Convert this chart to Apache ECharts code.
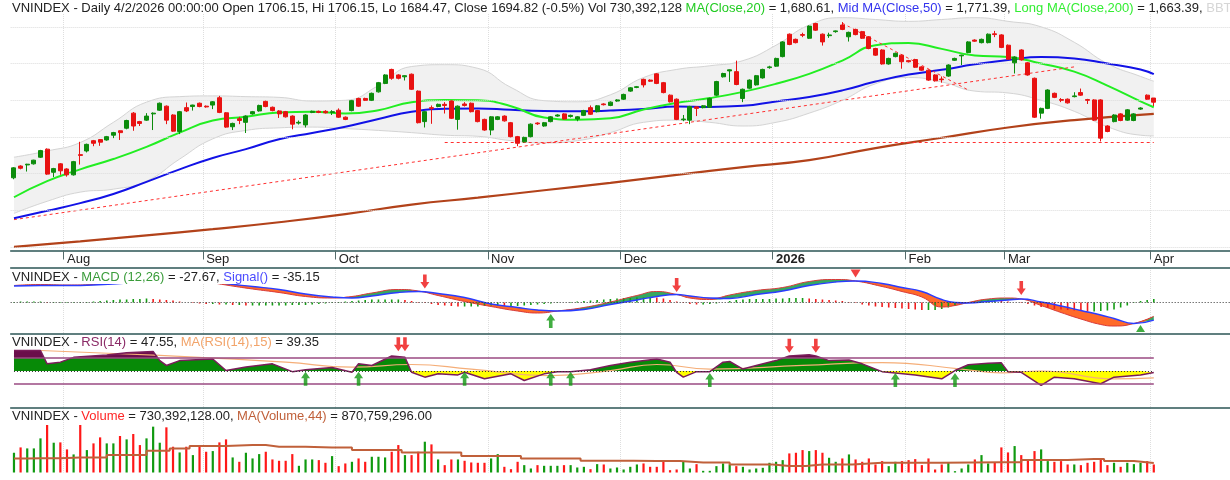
<!DOCTYPE html>
<html>
<head>
<meta charset="utf-8">
<script src="https://cdn.jsdelivr.net/npm/echarts@6/dist/echarts.min.js"></script>
<style>
  html, body { margin: 0; padding: 0; background: #fff; }
  #chart { width: 1230px; height: 480px; }
</style>
</head>
<body>
<div id="chart"></div>
<script>
// ---- data ----
// slot index per trading day, blank slots on the right
const SLOTS = 184;
const categories = Array.from({ length: SLOTS }, (_, i) => String(i));
const monthStart = [8, 29, 49, 72, 92, 115, 135, 150, 172];
const monthName = ['Aug', 'Sep', 'Oct', 'Nov', 'Dec', '2026', 'Feb', 'Mar', 'Apr'];
const priceGrid = [1300, 1400, 1500, 1600, 1700, 1800, 1900];

// [open, close, low, high]
const candles = [
  [1489,1516,1485,1518],[1521,1515,1512,1523],[1524,1526,1506,1527],[1527,1537,1525,1538],
  [1545,1563,1543,1565],[1567,1499,1497,1569],[1504,1514,1491,1516],[1527,1508,1497,1529],
  [1513,1497,1492,1515],[1497,1533,1495,1535],[1552,1550,1525,1587],[1562,1580,1558,1582],
  [1590,1583,1575,1592],[1593,1586,1576,1594],[1592,1601,1590,1603],[1605,1612,1597,1614],
  [1617,1612,1592,1618],[1624,1645,1621,1647],[1665,1630,1617,1668],[1642,1637,1630,1644],
  [1646,1657,1644,1665],[1663,1665,1619,1667],[1673,1692,1671,1694],[1684,1646,1635,1686],
  [1660,1616,1614,1662],[1615,1669,1608,1671],[1680,1671,1668,1694],[1683,1687,1672,1688],
  [1692,1683,1681,1694],[1684,1682,1680,1686],[1687,1696,1676,1698],[1707,1667,1665,1712],
  [1666,1627,1625,1668],[1628,1637,1619,1639],[1650,1645,1635,1655],[1640,1657,1611,1659],
  [1663,1669,1661,1671],[1671,1686,1669,1688],[1697,1683,1681,1699],[1681,1672,1670,1683],
  [1671,1663,1652,1673],[1669,1655,1653,1671],[1657,1635,1621,1659],[1638,1640,1634,1645],
  [1633,1660,1626,1662],[1667,1670,1665,1672],[1670,1667,1665,1672],[1670,1666,1664,1673],
  [1667,1669,1660,1673],[1673,1654,1652,1678],[1654,1648,1646,1656],[1672,1699,1670,1701],
  [1705,1684,1682,1707],[1705,1700,1698,1707],[1700,1719,1698,1721],[1723,1748,1721,1750],
  [1746,1769,1744,1771],[1784,1760,1756,1786],
  [1769,1760,1757,1771],[1764,1767,1754,1768],[1771,1730,1728,1773],[1725,1639,1637,1727],
  [1642,1669,1626,1671],[1680,1678,1636,1686],[1683,1689,1681,1691],[1689,1686,1664,1695],
  [1698,1651,1649,1700],[1648,1684,1620,1686],[1690,1686,1683,1695],[1692,1669,1667,1694],
  [1672,1642,1640,1674],[1648,1619,1617,1650],[1619,1655,1605,1657],[1648,1655,1646,1657],
  [1657,1644,1642,1659],[1639,1601,1599,1641],[1601,1583,1575,1603],[1587,1599,1585,1601],
  [1601,1635,1599,1637],[1638,1636,1633,1640],[1630,1639,1628,1641],[1642,1655,1640,1657],
  [1657,1660,1655,1662],[1663,1649,1647,1665],[1656,1659,1653,1661],[1649,1655,1643,1657],
  [1659,1672,1657,1674],[1680,1662,1660,1686],[1669,1685,1667,1687],[1690,1688,1686,1692],
  [1686,1695,1684,1697],[1698,1701,1696,1703],[1703,1716,1701,1718],[1725,1734,1723,1736],
  [1735,1737,1733,1739],[1757,1742,1735,1759],[1755,1752,1750,1757],[1772,1746,1744,1774],
  [1748,1721,1719,1750],[1714,1696,1694,1716],[1703,1648,1646,1705],[1647,1649,1643,1660],
  [1646,1683,1635,1685],[1682,1678,1657,1684],[1680,1685,1678,1687],[1681,1705,1679,1707],
  [1714,1751,1712,1753],[1764,1773,1762,1775],[1780,1783,1750,1784],[1778,1743,1741,1808],
  [1705,1730,1695,1732],[1733,1755,1731,1757],[1742,1767,1740,1769],[1761,1784,1759,1786],
  [1789,1791,1786,1794],[1793,1814,1791,1816],[1819,1859,1817,1861],
  [1880,1852,1850,1882],[1866,1857,1855,1868],[1879,1877,1872,1884],[1869,1902,1867,1904],
  [1909,1891,1889,1911],[1880,1859,1849,1882],[1876,1878,1870,1884],[1887,1889,1884,1890],
  [1905,1893,1891,1913],[1873,1885,1860,1887],[1893,1879,1877,1895],[1887,1869,1867,1889],
  [1873,1841,1839,1875],[1841,1823,1821,1843],[1837,1799,1797,1839],[1799,1814,1797,1816],
  [1819,1828,1817,1830],[1823,1805,1786,1825],[1808,1805,1803,1810],[1811,1790,1788,1813],
  [1791,1782,1780,1793],[1782,1755,1753,1784],[1769,1753,1751,1771],[1758,1756,1748,1765],
  [1766,1796,1764,1798],[1809,1814,1807,1816],[1821,1823,1796,1824],[1830,1859,1828,1861],
  [1864,1861,1859,1866],[1857,1866,1855,1868],[1857,1880,1855,1882],[1881,1879,1872,1889],
  [1878,1844,1842,1880],[1850,1812,1810,1852],[1802,1818,1773,1820],[1837,1810,1808,1839],
  [1802,1769,1767,1804],[1760,1654,1652,1762],[1665,1678,1650,1680],[1678,1728,1676,1730],
  [1719,1708,1706,1721],[1702,1700,1695,1706],[1703,1693,1691,1705],[1710,1712,1708,1722],
  [1721,1714,1712,1732],[1702,1700,1690,1704],[1701,1646,1644,1703],[1701,1597,1588,1703],
  [1630,1615,1613,1632],[1642,1660,1640,1662],[1663,1645,1643,1665],[1646,1674,1644,1676],
  [1645,1663,1643,1665],[1676,1679,1674,1681],[1714,1703,1701,1716],[1706.15,1694.82,1684.47,1706.15]
];

// moving averages, [slot, value]
const ma20 = [[0,1436],[5,1480],[10,1512],[15,1540],[20,1573],[25,1612],[30,1645],[35,1655],[40,1667],
  [45,1669],[50,1664],[55,1673],[60,1695],[65,1701],[70,1700],[75,1684],[80,1653],[85,1647],[90,1651],
  [95,1675],[100,1693],[105,1706],[110,1723],[115,1745],[120,1772],[125,1808],[130,1850],[135,1856],
  [140,1840],[145,1822],[150,1818],[155,1800],[160,1778],[165,1740],[170,1697],[172,1681]];
const ma50 = [[0,1379],[5,1399],[10,1420],[15,1445],[20,1478],[25,1512],[30,1543],[35,1567],[40,1594],
  [45,1611],[50,1628],[55,1649],[60,1669],[65,1677],[70,1678],[75,1674],[80,1671],[85,1670],[90,1672],
  [95,1676],[100,1683],[105,1682],[110,1685],[115,1697],[120,1709],[125,1727],[130,1751],[135,1770],
  [140,1783],[145,1798],[150,1810],[155,1818],[160,1814],[165,1800],[170,1784],[172,1771]];
const ma200 = [[0,1301],[10,1316],[20,1332],[30,1349],[40,1368],[50,1390],[60,1416],[70,1435],[80,1455],
  [90,1475],[100,1497],[110,1518],[120,1537],[130,1570],[140,1598],[150,1626],[160,1646],[172,1663]];

// Bollinger band
const bbIdx   = [0,5,10,15,20,25,30,35,40,45,50,55,60,65,70,75,80,85,90,95,100,105,110,115,120,125,130,135,140,145,150,155,160,165,170,172];
const bbUpper = [1545,1562,1585,1640,1695,1710,1712,1710,1708,1698,1700,1740,1792,1797,1787,1735,1699,1696,1715,1762,1784,1794,1808,1850,1905,1925,1920,1915,1920,1925,1915,1900,1858,1800,1765,1752];
const bbLower = [1392,1425,1450,1458,1480,1540,1595,1618,1625,1627,1623,1618,1612,1605,1602,1590,1584,1590,1612,1640,1646,1640,1630,1640,1665,1700,1745,1762,1750,1725,1720,1700,1670,1628,1605,1603];

// trend lines drawn on the price panel: [slot, price] to [slot, price]
const trendLines = [
  [[0, 1375], [160, 1791]],
  [[65, 1586], [172, 1586]],
  [[125, 1910], [144, 1728]]
];

// MACD
const macdIdx    = [0,4,8,12,16,20,24,28,32,36,40,44,48,51,54,58,61,64,68,72,76,79,82,86,90,94,97,100,102,105,108,112,116,120,124,127,131,134,137,140,142,144,147,150,152,155,158,161,164,166,169,172];
const macdVal    = [34,36,35,36,44,50,52,44,35,27,20,12,9,12,19,26,23,14,2,-8,-17,-21,-17,-10,1,14,22,16,9,6,15,24,30,42,46,43,32,22,11,-9,-6,0,7,9,7,-6,-20,-33,-44,-47,-42,-27.67];
const signalVal  = [33,34,34,35,38,42,47,46,38,32,26,17,11,9,13,20,22,18,10,-3,-10,-15,-17,-14,-4,5,12,16,13,9,8,16,23,34,41,43,38,30,22,6,0,-1,2,5,7,1,-7,-16,-25,-32,-42,-35.15];
const macdHist = [
  1,2,2,2,2,1,1,1,1,1, 1,1,2,3,4,5,6,6,7,7, 8,7,6,5,4,2,0,-1,-2,-3,
  -3,-4,-4,-5,-5,-6,-6,-6,-6,-6, -6,-6,-5,-5,-5,-4,-3,-2,-1,1, 2,3,4,5,6,6,6,6,6,5,
  3,1,-1,-3,-5,-6,-7,-8,-8,-8, -8,-7,-6,-6,-7,-7,-7,-6,-5,-4, -3,-2,-1,0,1,2,3,4,5,6,
  7,8,9,9,10,10,11,10,8,5, 2,-1,-3,-4,-4,-3,-2,0,3,5, 6,7,7,7,7,8,8,9,9,9,
  8,7,6,5,4,3,1,-1,-4,-6, -8,-9,-10,-11,-12,-13,-14,-15,-15,-15, -13,-10,-6,-2,1,3,4,4,4,3,
  2,0,-1,-3,-6,-9,-11,-13,-14,-15, -16,-17,-18,-18,-17,-16,-14,-10,-6,-1, 3,5,7
];
const macdSell = [[62, 42], [100, 35], [152, 29]];
const macdBuy  = [[81, -37]];
const macdTop  = [[127, 58]];
const macdLow  = [[170, -52]];

// RSI
const rsi = [[0,81.5],[4,81.5],[5,61],[7,63.6],[9,71],[14,74.6],[17,78],[21,80],[22,66],[23,58.5],[25,66],
  [30,68.5],[32,50.7],[35,56],[39,61],[42,49],[44,52],[48,55.5],[51,48],[52,61],[54,58.5],[57,73],[59,71],
  [60,48],[62,40.5],[64,45.6],[67,44],[68,48],[71,38],[75,45.6],[77,35.4],[80,45.6],[82,49],[84,49],[87,52],
  [90,58.5],[93,63.6],[97,68.5],[99,63.6],[100,48],[101,40.5],[103,49],[105,49],[107,63.6],[108,64.6],
  [110,53],[112,58.5],[115,66],[117,73],[120,75],[121,73],[123,66],[126,67],[128,61],[131,49],[133,47],
  [136,44],[140,38],[142,50.7],[144,59.6],[147,62],[149,62.5],[150,49],[152,48],[155,27.7],[157,40.5],
  [160,38],[164,30.3],[166,40.5],[170,44],[172,47.55]];
const rsiMa = [[4,81.5],[16,76.5],[28,71],[41,63.6],[51,56],[60,60],[69,53],[81,43],[90,50.7],[97,60],
  [105,53],[119,58.5],[131,63],[143,53],[149,47],[155,50],[166,38],[172,39.35]];
const rsiSell = [[58, 91], [59, 91], [117, 89], [121, 89]];
const rsiBuy  = [[44, 38], [52, 38], [68, 38], [81, 38], [84, 38], [105, 36], [133, 36], [142, 36]];

// volume, millions of shares
const volume = [
  1794,2280,2189,2189,3101,4317,2706,2736,2098,1642, 4317,2037,2645,3192,2645,2645,3314,3010,3496,2493,
  3101,4165,2706,4104,2341,1824,2341,1581,2402,1885, 1946,2736,3010,1368,973,1794,1277,1672,1885,1186,
  1064,1064,1672,608,1186,1186,1125,882,1490,578, 821,973,1277,973,1429,1429,1368,1885,2493,1581,
  1581,1885,2797,2554,1186,669,1186,1186,1064,912, 882,882,1277,1672,517,304,973,669,365,669,
  608,608,608,669,669,456,517,304,760,730,
  365,456,274,517,730,821,517,517,1034,213, 274,973,365,760,152,152,578,821,730,578,
  517,274,365,426,882,973,1125,1733,1794,2037, 1946,2037,1794,1338,973,1277,1642,1186,973,1277,
  730,1034,578,973,1034,1125,1216,669,1277,274, 730,882,122,365,730,1186,1581,821,912,2280,
  1824,2402,1581,1186,1946,2098,1034,973,1034,730, 730,669,882,973,1277,669,882,517,882,760,
  882,1034,730
];
const volMa = [[0,1277],[4,1300],[10,1368],[18,1580],[22,1976],[25,2189],[28,2400],[36,2493],[40,2350],
  [48,2280],[54,2037],[63,1824],[72,1490],[81,1277],[90,1064],[97,1034],[104,912],[112,730],[117,600],
  [122,730],[131,882],[149,942],[155,1125],[163,1216],[166,1034],[172,871]];

// ---- chart ----
const FONT = '"Liberation Sans", Arial, sans-serif';
const FS = 13;
const UP = '#0c8c0c', DOWN = '#e81212';
const AXIS_DARK = '#2d5656';
const GRID_LEFT = 10.66, GRID_W = 1228;

const bbBase = bbIdx.map((x, i) => [x, bbLower[i]]);
const bbSpan = bbIdx.map((x, i) => [x, bbUpper[i] - bbLower[i]]);
const ribbonBase = macdIdx.map((x, i) => [x, Math.min(macdVal[i], signalVal[i])]);
const ribbonUp = macdIdx.map((x, i) => [x, Math.max(macdVal[i] - signalVal[i], 0)]);
const ribbonDn = macdIdx.map((x, i) => [x, Math.max(signalVal[i] - macdVal[i], 0)]);

const ARROW_DOWN = 'path://M3,0 L7,0 L7,7 L10,7 L5,13 L0,7 L3,7 Z';
const ARROW_UP = 'path://M5,0 L10,6 L7,6 L7,13 L3,13 L3,6 L0,6 Z';

function isMonth(i) { return monthStart.indexOf(i) >= 0; }

function xAxisFor(grid, main) {
  return {
    type: 'category', gridIndex: grid, data: categories, boundaryGap: true,
    position: main ? 'bottom' : 'top',
    axisLine: { show: true, onZero: false, lineStyle: { color: AXIS_DARK, width: 1.5 } },
    axisTick: { show: main, interval: isMonth, length: 9, lineStyle: { color: '#556b6b', width: 1 } },
    axisLabel: {
      show: main, interval: isMonth, align: 'left', margin: 2,
      fontFamily: FONT, fontSize: FS, color: '#222',
      formatter: (v) => {
        const k = monthStart.indexOf(Number(v));
        if (k < 0) return '';
        return monthName[k] === '2026' ? '{b|2026}' : monthName[k];
      },
      rich: { b: { fontWeight: 'bold', fontFamily: FONT, fontSize: FS, color: '#222' } }
    },
    splitLine: { show: true, interval: isMonth, lineStyle: { color: '#dedede', type: 'dotted', width: 1 } }
  };
}

function lineSeries(grid, data, color, width, extra) {
  return Object.assign({
    type: 'line', xAxisIndex: grid, yAxisIndex: grid, data: data,
    symbol: 'none', smooth: true, silent: true,
    lineStyle: { color: color, width: width }
  }, extra || {});
}

const series = [
  // 0,1 bollinger band
  lineSeries(0, bbBase, '#d4d4d4', 1, { stack: 'bb', stackStrategy: 'all', z: 1 }),
  lineSeries(0, bbSpan, '#d4d4d4', 1, { stack: 'bb', stackStrategy: 'all', z: 1,
    areaStyle: { color: '#f1f1f1', opacity: 1 } }),
  // 2 long MA + trend lines
  lineSeries(0, ma200, '#b2421a', 2.2, { z: 3,
    markLine: {
      silent: true, symbol: ['none', 'none'], label: { show: false },
      lineStyle: { color: '#ff3030', type: [3, 3], width: 1 },
      data: trendLines.map(t => [{ coord: t[0] }, { coord: t[1] }])
    } }),
  // 3 mid MA
  lineSeries(0, ma50, '#1212e6', 2, { z: 3 }),
  // 4 MA20
  lineSeries(0, ma20, '#22ee22', 2, { z: 3 }),
  // 5 candles
  {
    type: 'candlestick', xAxisIndex: 0, yAxisIndex: 0, data: candles, barWidth: 4.5, z: 5,
    itemStyle: { color: UP, color0: DOWN, borderColor: UP, borderColor0: DOWN, borderWidth: 1 },
    markLine: {
      silent: true, symbol: ['none', 'none'], label: { show: false },
      lineStyle: { color: '#dcdcdc', type: 'dotted', width: 1 },
      data: priceGrid.map(v => ({ yAxis: v }))
    }
  },
  // 6,7,8 MACD ribbon
  lineSeries(1, ribbonBase, 'transparent', 0, { stack: 'macd', stackStrategy: 'all', z: 2 }),
  lineSeries(1, ribbonUp, 'transparent', 0, { stack: 'macd', stackStrategy: 'all', z: 2,
    areaStyle: { color: '#35a860', opacity: 1 } }),
  lineSeries(1, ribbonDn, 'transparent', 0, { stack: 'macd', stackStrategy: 'all', z: 2,
    areaStyle: { color: '#ff6a2a', opacity: 1 } }),
  // 9 histogram
  {
    type: 'bar', xAxisIndex: 1, yAxisIndex: 1, data: macdHist, barWidth: 1.6, silent: true, z: 3,
    itemStyle: { color: p => (p.dataIndex === 0 || macdHist[p.dataIndex] >= macdHist[p.dataIndex - 1]) ? '#159c15' : '#f01c1c' },
    markLine: {
      silent: true, symbol: ['none', 'none'], label: { show: false },
      lineStyle: { color: '#333', type: [1, 2], width: 1 },
      data: [{ yAxis: 0 }]
    }
  },
  // 10,11 MACD + signal lines
  lineSeries(1, macdIdx.map((x, i) => [x, macdVal[i]]), '#d83a3a', 1, { z: 4 }),
  lineSeries(1, macdIdx.map((x, i) => [x, signalVal[i]]), '#2a3cff', 1.4, { z: 4 }),
  // 12-15 MACD markers
  { type: 'scatter', xAxisIndex: 1, yAxisIndex: 1, data: macdSell, symbol: ARROW_DOWN, symbolSize: [9, 14], itemStyle: { color: '#ee1111' }, z: 6, silent: true },
  { type: 'scatter', xAxisIndex: 1, yAxisIndex: 1, data: macdBuy, symbol: ARROW_UP, symbolSize: [9, 14], itemStyle: { color: '#129912' }, z: 6, silent: true },
  { type: 'scatter', xAxisIndex: 1, yAxisIndex: 1, data: macdTop, symbol: 'triangle', symbolRotate: 180, symbolSize: [10, 8], itemStyle: { color: '#ee1111' }, z: 6, silent: true },
  { type: 'scatter', xAxisIndex: 1, yAxisIndex: 1, data: macdLow, symbol: 'triangle', symbolSize: [9, 7], itemStyle: { color: '#129912' }, z: 6, silent: true },
  // 16 RSI fill
  lineSeries(2, rsi, 'transparent', 0, { smooth: false, z: 2, areaStyle: { origin: 50, opacity: 1 } }),
  // 17 RSI MA
  lineSeries(2, rsiMa, '#f5ae78', 1.2, { z: 3 }),
  // 18 RSI line + level lines
  lineSeries(2, rsi, '#7a1c5a', 1.5, { smooth: false, z: 4,
    markLine: {
      silent: true, symbol: ['none', 'none'], label: { show: false },
      data: [
        [{ coord: [0, 70], lineStyle: { color: '#9a4a82', width: 1.5, type: 'solid' } }, { coord: [172, 70] }],
        [{ coord: [0, 30], lineStyle: { color: '#9a4a82', width: 1.5, type: 'solid' } }, { coord: [172, 30] }],
        [{ coord: [0, 50], lineStyle: { color: '#333', width: 1, type: [1, 2] } }, { coord: [172, 50] }]
      ]
    } }),
  // 19,20 RSI markers
  { type: 'scatter', xAxisIndex: 2, yAxisIndex: 2, data: rsiSell, symbol: ARROW_DOWN, symbolSize: [9, 14], itemStyle: { color: '#ee1111' }, z: 6, silent: true },
  { type: 'scatter', xAxisIndex: 2, yAxisIndex: 2, data: rsiBuy, symbol: ARROW_UP, symbolSize: [9, 14], itemStyle: { color: '#129912' }, z: 6, silent: true },
  // 21 volume
  {
    type: 'bar', xAxisIndex: 3, yAxisIndex: 3, data: volume, barWidth: 2.2, silent: true, z: 2,
    itemStyle: { color: p => candles[p.dataIndex][1] >= candles[p.dataIndex][0] ? '#109a10' : '#ff1818' }
  },
  // 22 volume MA
  lineSeries(3, volMa, '#c0603a', 2, { smooth: false, step: 'middle', z: 3 })
];

const titleRich = {
  k: { fill: '#222', fontFamily: FONT, fontSize: FS },
  g: { fill: '#22cc22', fontFamily: FONT, fontSize: FS },
  l: { fill: '#33ee33', fontFamily: FONT, fontSize: FS },
  b: { fill: '#3333ee', fontFamily: FONT, fontSize: FS },
  gy: { fill: '#d6d6d6', fontFamily: FONT, fontSize: FS },
  mg: { fill: '#3a9c3a', fontFamily: FONT, fontSize: FS },
  sb: { fill: '#4b4bff', fontFamily: FONT, fontSize: FS },
  rp: { fill: '#8a2a66', fontFamily: FONT, fontSize: FS },
  ro: { fill: '#f2a46a', fontFamily: FONT, fontSize: FS },
  vr: { fill: '#ff2626', fontFamily: FONT, fontSize: FS },
  vb: { fill: '#c0603a', fontFamily: FONT, fontSize: FS }
};

function titleText(top, text, bg) {
  return {
    type: 'text', left: 12, top: top, z: 100, silent: true,
    style: {
      text: text, rich: titleRich, fontFamily: FONT, fontSize: FS,
      backgroundColor: bg ? '#fff' : null
    }
  };
}

const option = {
  animation: false,
  backgroundColor: '#fff',
  grid: [
    { left: GRID_LEFT, top: 14, width: GRID_W, height: 236.5 },
    { left: GRID_LEFT, top: 268, width: GRID_W, height: 66 },
    { left: GRID_LEFT, top: 334, width: GRID_W, height: 73 },
    { left: GRID_LEFT, top: 408, width: GRID_W, height: 64.5 }
  ],
  xAxis: [xAxisFor(0, true), xAxisFor(1, false), xAxisFor(2, false), xAxisFor(3, false)],
  yAxis: [
    { type: 'value', gridIndex: 0, min: 1291, max: 1935, show: false },
    { type: 'value', gridIndex: 1, min: -63, max: 69, show: false },
    { type: 'value', gridIndex: 2, min: -5.4, max: 106.9, show: false },
    { type: 'value', gridIndex: 3, min: 0, max: 5860, show: false }
  ],
  visualMap: [{
    type: 'piecewise', show: false, seriesIndex: 16, dimension: 1,
    pieces: [
      { gt: 70, color: '#6b0e4b' },
      { gt: 50, lte: 70, color: '#078a07' },
      { lte: 50, color: '#ffff00' }
    ]
  }],
  graphic: [
    titleText(2, '{k|VNINDEX - Daily 4/2/2026 00:00:00 Open 1706.15, Hi 1706.15, Lo 1684.47, Close 1694.82 (-0.5%) Vol 730,392,128 }' +
      '{g|MA(Close,20)}{k| = 1,680.61, }{b|Mid MA(Close,50)}{k| = 1,771.39, }{l|Long MA(Close,200)}{k| = 1,663.39, }{gy|BBTop(Close,20,2) = 1,806.22}'),
    titleText(271, '{k|VNINDEX - }{mg|MACD (12,26)}{k| = -27.67, }{sb|Signal()}{k| = -35.15}', true),
    titleText(336, '{k|VNINDEX - }{rp|RSI(14)}{k| = 47.55, }{ro|MA(RSI(14),15)}{k| = 39.35}'),
    titleText(410, '{k|VNINDEX - }{vr|Volume}{k| = 730,392,128.00, }{vb|MA(Volume,44)}{k| = 870,759,296.00}')
  ],
  series: series
};

const myChart = echarts.init(document.getElementById('chart'));
myChart.setOption(option);
window.addEventListener('resize', function () { myChart.resize(); });
</script>
</body>
</html>
